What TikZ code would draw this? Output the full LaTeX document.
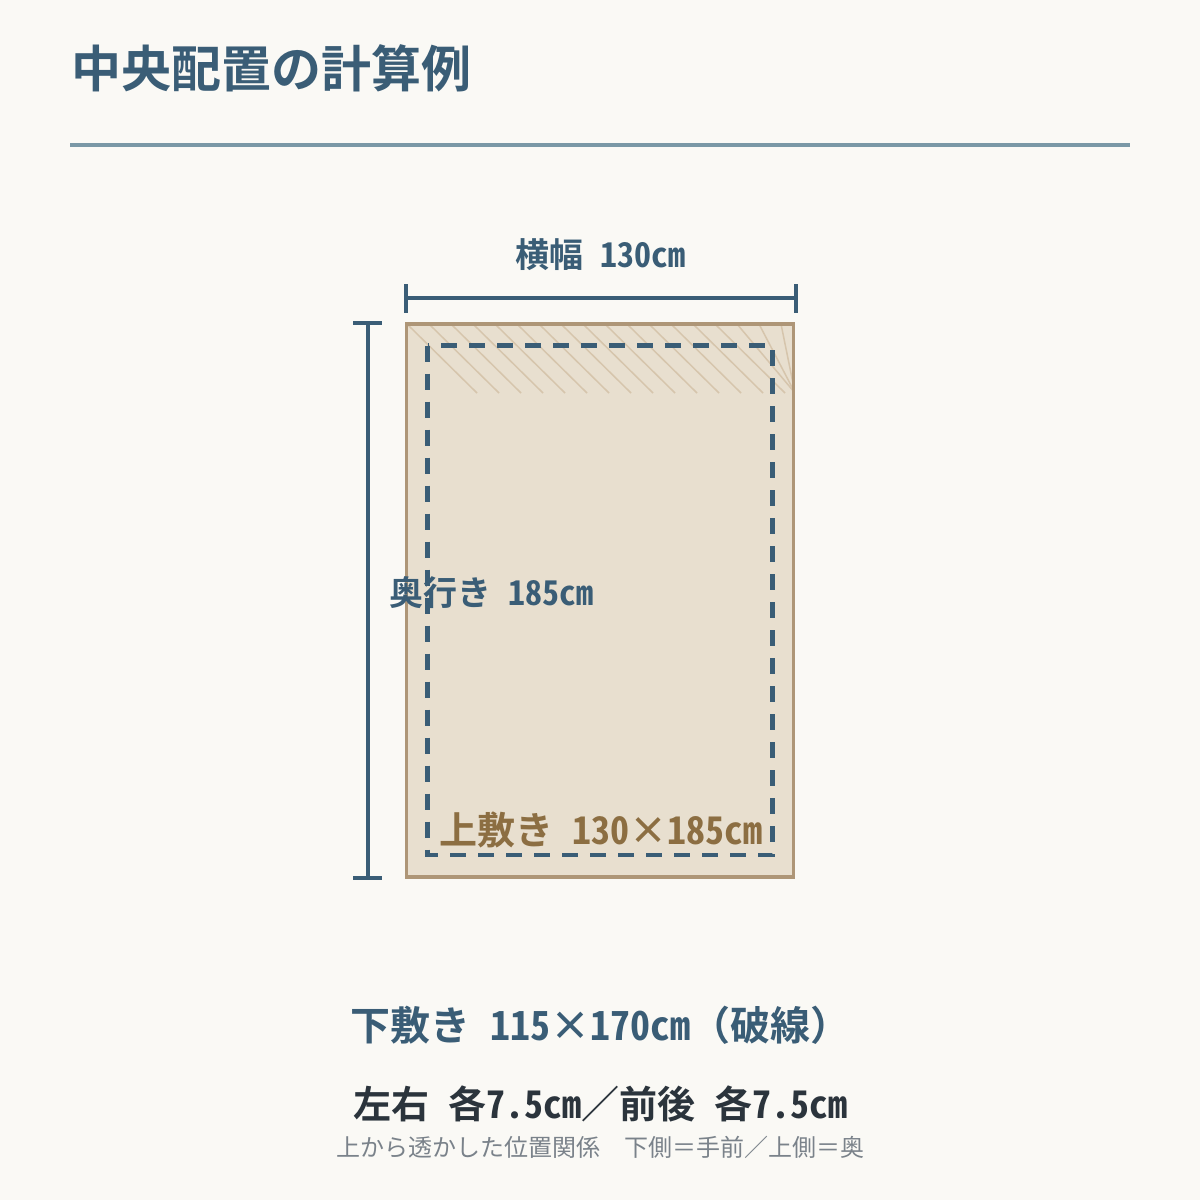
\documentclass[tikz,border=0pt]{standalone}
\usepackage{fontspec}
\usepackage{tikz}
\setmainfont{Noto Sans Mono CJK JP}
\definecolor{paper}{HTML}{FAF9F5}
\definecolor{inkblue}{HTML}{3A5D76}
\definecolor{rulegray}{HTML}{7A98A6}
\definecolor{rugfill}{HTML}{E8DFCF}
\definecolor{rugedge}{HTML}{AE9677}
\definecolor{hatchline}{HTML}{D6C5AC}
\definecolor{rugbrown}{HTML}{8C6E42}
\definecolor{darkink}{HTML}{2B343C}
\definecolor{graytext}{HTML}{7A828A}

\begin{document}
\begin{tikzpicture}[x=1pt,y=-1pt,
        rug/.style={fill=rugfill,draw=rugedge,line width=3.5pt},
        underlay/.style={draw=inkblue,line width=4.5pt,dash pattern=on 16pt off 12pt},
        dimline/.style={draw=inkblue,line width=4pt},
        hatch/.style={draw=hatchline,line width=1.5pt},
        dimtext/.style={text=inkblue,inner sep=0pt,anchor=base,font=\bfseries\fontsize{34}{42}\selectfont},
        notetext/.style={inner sep=0pt,anchor=base}]

        \useasboundingbox[fill=paper] (0,0) rectangle (1200,1200);

        % title
        \node[notetext,anchor=base west,text=inkblue,font=\bfseries\fontsize{50}{60}\selectfont] (title) at (71,87) {中央配置の計算例};
        \draw[rulegray,line width=4pt] (70,145) -- (1130,145);

        % upper rug
        \fill[rugfill] (406.5,324) rectangle (793.5,877);
        \begin{scope}
            \clip (406.5,324) rectangle (793.5,877);
            \foreach \x [evaluate=\x as \xe using {min(\x+70,795)}] in {407,429,...,781}
                \draw[hatch] (\x,324) -- (\xe,393);
        \end{scope}
        \draw[rug,fill=none] (406.5,324) rectangle (793.5,877);

        % lower rug
        \draw[underlay] (427.5,345.5) rectangle (772.5,855);

        % width
        \coordinate (wl) at (406,298);
        \coordinate (wr) at (796,298);
        \draw[dimline] (wl) -- (wr);
        \draw[dimline] (406,284) -- (406,313);
        \draw[dimline] (796,284) -- (796,313);
        \node[dimtext] (widthlabel) at (600,267) {横幅 130cm};

        % depth
        \coordinate (dt) at (368,323);
        \coordinate (db) at (368,878);
        \draw[dimline] (dt) -- (db);
        \draw[dimline] (353,323) -- (382,323);
        \draw[dimline] (353,878) -- (382,878);
        \node[dimtext] (depthlabel) at (491,605) {奥行き 185cm};

        \node[notetext,text=rugbrown,font=\bfseries\fontsize{38}{46}\selectfont] (upperlabel) at (601,844) {上敷き 130×185cm};

        % notes
        \node[notetext,text=inkblue,font=\bfseries\fontsize{40}{48}\selectfont] (lowerlabel) at (600,1040) {下敷き 115×170cm（破線）};
        \node[notetext,text=darkink,font=\bfseries\fontsize{38}{46}\selectfont] (marginlabel) at (600,1118) {左右 各7.5cm／前後 各7.5cm};
        \node[notetext,text=graytext,font=\fontsize{24}{29}\selectfont] (viewlabel) at (600,1156) {上から透かした位置関係　下側＝手前／上側＝奥};
    \end{tikzpicture}
\end{document}
